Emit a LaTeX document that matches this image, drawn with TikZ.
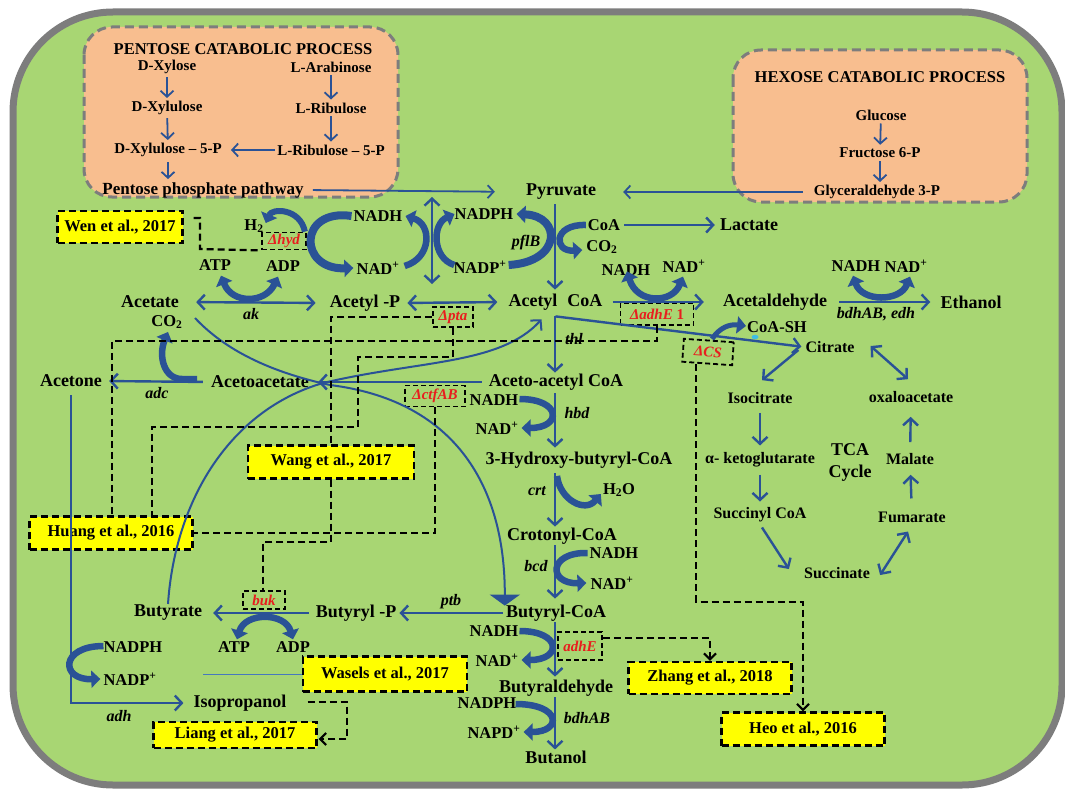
\documentclass[tikz,border=0pt]{standalone}
\usepackage{fontspec}
\setmainfont{Liberation Serif}
\usetikzlibrary{arrows.meta,calc}
\definecolor{bg}{RGB}{168,214,115}
\definecolor{framegray}{RGB}{125,125,125}
\definecolor{orng}{RGB}{248,190,143}
\definecolor{pblue}{RGB}{42,82,150}
\definecolor{kred}{RGB}{232,30,30}
\definecolor{ylw}{RGB}{255,255,0}
\definecolor{lblue}{RGB}{70,120,190}
\definecolor{dotc}{RGB}{60,190,230}
\begin{document}
\begin{tikzpicture}[x=1pt,y=-1pt,
  big/.style={font=\fontsize{18}{20}\selectfont\bfseries, inner sep=1pt},
  med/.style={font=\fontsize{16}{18}\selectfont\bfseries, inner sep=1pt},
  sml/.style={font=\fontsize{15}{17}\selectfont\bfseries, inner sep=1pt},
  ttl/.style={font=\fontsize{16.5}{18}\selectfont\bfseries, inner sep=1pt},
  cof/.style={font=\fontsize{16.5}{18}\selectfont\bfseries, inner sep=1pt},
  enz/.style={font=\fontsize{16}{18}\selectfont\bfseries\itshape, inner sep=1pt},
  ko/.style={draw=black, line width=1.8pt, dash pattern=on 5pt off 3pt, text=kred, font=\fontsize{15}{17}\selectfont\bfseries\itshape, inner sep=0pt},
  ref/.style={draw=black, fill=ylw, line width=2.2pt, dash pattern=on 7pt off 4pt, font=\fontsize{16.5}{18}\selectfont\bfseries, inner sep=0pt, minimum height=32pt},
  arr/.style={draw=pblue, line width=2.4pt, -{Straight Barb[length=7pt,width=15pt]}},
  darr/.style={draw=pblue, line width=2.4pt, {Straight Barb[length=7pt,width=15pt]}-{Straight Barb[length=7pt,width=15pt]}},
  parr/.style={draw=pblue, line width=1.8pt, -{Straight Barb[length=6pt,width=13pt]}},
  thk/.style={draw=pblue, line width=6.5pt, -{Triangle[length=9pt,width=17pt]}},
  thkd/.style={draw=pblue, line width=6.5pt, {Triangle[length=9pt,width=17pt]}-{Triangle[length=9pt,width=17pt]}},
  dsh/.style={draw=black, line width=2.2pt, dash pattern=on 7pt off 4pt},
  dsha/.style={dsh, -{Straight Barb[length=6pt,width=12pt]}},
  crv/.style={draw=pblue, line width=2pt}
]
\useasboundingbox (0,0) rectangle (1065,789);
\fill[white] (0,0) rectangle (1065,789);
\draw[draw=framegray, line width=7pt, fill=bg, rounded corners=100pt] (13,12) rectangle (1062,785);
\draw[draw=framegray, line width=3pt, dash pattern=on 9pt off 5pt, fill=orng, rounded corners=28pt] (84,27) rectangle (398,197);
\draw[draw=framegray, line width=3pt, dash pattern=on 9pt off 5pt, fill=orng, rounded corners=28pt] (733,50) rectangle (1027,202);

% ---------- reference boxes ----------
\node[ref, minimum width=125pt] (wen) at (120,227) {Wen et al., 2017};
\node[ref, minimum width=166pt, minimum height=33pt] (wang) at (331,462) {Wang et al., 2017};
\node[ref, minimum width=163pt, minimum height=33pt] (huang) at (111,533) {Huang et al., 2016};
\node[ref, minimum width=164pt, minimum height=35pt] (wasels) at (385,674) {Wasels et al., 2017};
\node[ref, minimum width=163pt, minimum height=26pt] (liang) at (235,735) {Liang et al., 2017};
\node[ref, minimum width=163pt] (zhang) at (710,678) {Zhang et al., 2018};
\node[ref, minimum width=163pt, minimum height=33pt] (heo) at (803,729) {Heo et al., 2016};

% ---------- knockout boxes ----------
\node[ko, minimum width=44pt, minimum height=17pt] (hyd) at (284,241) {Δhyd};
\node[ko, minimum width=40pt, minimum height=20pt] (pta) at (453,317) {Δpta};
\node[ko, minimum width=73pt, minimum height=22pt] (adhe1) at (657,314) {ΔadhE \textup{1}};
\node[ko, minimum width=60pt, minimum height=21pt] (ctfab) at (435,396) {ΔctfAB};
\node[ko, minimum width=50pt, minimum height=23pt, rotate=-4] (cs) at (708,352) {ΔCS};
\node[ko, minimum width=42pt, minimum height=18pt] (buk) at (264,600) {buk};
\node[ko, minimum width=44pt, minimum height=28pt] (adhe) at (580,646) {adhE};

% ---------- pentose ----------
\node[ttl] (ptitle) at (243,49) {PENTOSE CATABOLIC PROCESS};
\node[sml] (dxyl) at (167,67) {D-Xylose};
\node[sml] (larab) at (331,67) {L-Arabinose};
\node[sml] (dxylu) at (167,108) {D-Xylulose};
\node[sml] (lribu) at (331,108) {L-Ribulose};
\node[sml] (dx5p) at (168,150) {D-Xylulose – 5-P};
\node[sml] (lr5p) at (331,150) {L-Ribulose – 5-P};
\node[font=\fontsize{17}{19}\selectfont\bfseries, inner sep=1pt] (ppp) at (203,190) {Pentose phosphate pathway};

% ---------- hexose ----------
\node[ttl] (htitle) at (880,77) {HEXOSE CATABOLIC PROCESS};
\node[sml] (gluc) at (881,115) {Glucose};
\node[sml] (fruc) at (880,153) {Fructose 6-P};
\node[sml] (gap) at (877,192) {Glyceraldehyde 3-P};

% ---------- top ----------
\node[big] (pyr) at (561,192) {Pyruvate};
\node[cof] (coa1) at (604,225) {CoA};
\node[big] (lact) at (749,225) {Lactate};
\node[cof] (co2a) at (602,247) {CO\textsubscript{2}};
\node[enz] (pflb) at (526,243) {pflB};
\node[cof] (nadph1) at (484,214) {NADPH};
\node[cof] (nadp1) at (480,267) {NADP\textsuperscript{+}};
\node[cof] (nadh1) at (378,216) {NADH};
\node[cof] (nad1) at (378,268) {NAD\textsuperscript{+}};
\node[cof] (h2) at (254,226) {H\textsubscript{2}};
\node[cof] (atp1) at (215,265) {ATP};
\node[cof] (adp1) at (283,266) {ADP};

\node[big] (acetate) at (150,302) {Acetate};
\node[cof] (co2b) at (167,322) {CO\textsubscript{2}};
\node[enz] (ak) at (251,314) {ak};
\node[big] (acp) at (365,303) {Acetyl -P};
\node[big] (acoa) at (555.5,302) {Acetyl\hspace{10pt}CoA};
\node[cof] (nadh2) at (626,270) {NADH};
\node[cof] (nad2) at (684,266) {NAD\textsuperscript{+}};
\node[big] (acald) at (775,302) {Acetaldehyde};
\node[cof] (nadh3) at (856,266) {NADH};
\node[cof] (nad3) at (906,266) {NAD\textsuperscript{+}};
\node[big] (eth) at (971,302) {Ethanol};
\node[enz] (bdh) at (876,314) {bdhAB, edh};

% ---------- TCA ----------
\node[cof] (coash) at (777,327) {CoA-SH};
\node[med] (citrate) at (830,347) {Citrate};
\node[med] (isocit) at (760,398) {Isocitrate};
\node[med] (akg) at (760,460) {α- ketoglutarate};
\node[med] (succoa) at (760,515) {Succinyl CoA};
\node[med] (succ) at (837,573) {Succinate};
\node[med] (fum) at (912,517) {Fumarate};
\node[med] (mal) at (910,459) {Malate};
\node[med] (oaa) at (911,397) {oxaloacetate};
\node[font=\fontsize{18}{22}\selectfont\bfseries, align=center, inner sep=1pt] (tca) at (850,462) {TCA\\Cycle};

% ---------- central column ----------
\node[enz] (thl) at (574,339) {thl};
\node[big] (acetone) at (71,381) {Acetone};
\node[enz] (adc) at (157,393) {adc};
\node[big] (acac) at (260,382) {Acetoacetate};
\node[big] (aacoa) at (556,382) {Aceto-acetyl CoA};
\node[cof] (nadh4) at (494,400) {NADH};
\node[cof] (nad4) at (497,428) {NAD\textsuperscript{+}};
\node[enz] (hbd) at (577,413) {hbd};
\node[big] (hbcoa) at (579,460) {3-Hydroxy-butyryl-CoA};
\node[enz] (crt) at (537,491) {crt};
\node[cof] (h2o) at (619,490) {H\textsubscript{2}O};
\node[big] (croto) at (562,536) {Crotonyl-CoA};
\node[cof] (nadh5) at (614,553) {NADH};
\node[cof] (nad5) at (612,583) {NAD\textsuperscript{+}};
\node[enz] (bcd) at (536,566) {bcd};
\node[big] (bucoa) at (556,613) {Butyryl-CoA};
\node[cof] (nadh6) at (494,631) {NADH};
\node[cof] (nad6) at (497,660) {NAD\textsuperscript{+}};
\node[big] (buald) at (556,688) {Butyraldehyde};
\node[cof] (nadph7) at (487,703) {NADPH};
\node[cof] (napd) at (494,732) {NAPD\textsuperscript{+}};
\node[enz] (bdhab) at (587,718) {bdhAB};
\node[big] (butanol) at (556,757) {Butanol};

% ---------- lower left ----------
\node[big] (butyrylp) at (356,613) {Butyryl -P};
\node[enz] (ptb) at (451,602) {ptb};
\node[big] (butyrate) at (168,613) {Butyrate};
\node[cof] (atp2) at (234,647) {ATP};
\node[cof] (adp2) at (293,647) {ADP};
\node[cof] (nadph8) at (133,647) {NADPH};
\node[cof] (nadp8) at (130,679) {NADP\textsuperscript{+}};
\node[enz] (adh) at (119,716) {adh};
\node[big] (isop) at (240,703) {Isopropanol};

\coordinate (ax) at (555,0);
\coordinate (vt) at (432,197);
\coordinate (vb) at (432,284);
\coordinate (acst) at (195,318);
\coordinate (wl) at (203,674);

% ---------- pentose / hexose arrows ----------
\draw[parr, shorten <=2pt, shorten >=2pt] (dxyl) -- (dxylu);
\draw[parr, shorten <=2pt, shorten >=2pt] (dxylu) -- (dx5p);
\draw[parr, shorten <=2pt, shorten >=2pt] (larab) -- (lribu);
\draw[parr, shorten <=2pt, shorten >=2pt] (lribu) -- (lr5p);
\draw[parr, shorten <=1pt, shorten >=8pt] (lr5p.west) -- (dx5p.east);
\draw[parr, shorten <=4pt, shorten >=2pt] (dx5p.south) -- (dx5p.south |- ppp.north);
\draw[parr, shorten <=2pt, shorten >=2pt] (gluc) -- (fruc);
\draw[parr, shorten <=2pt, shorten >=2pt] (fruc.south) -- (fruc.south |- gap.north);
\draw[parr, shorten <=8pt, shorten >=30pt] (ppp.east) -- (pyr.west);
\draw[parr, shorten <=10pt, shorten >=26pt] (gap.west) -- (pyr.east);

% ---------- main straight arrows ----------
\draw[arr, shorten <=3pt, shorten >=3pt] (ax |- pyr.south) -- (ax |- acoa.north);
\draw[arr, shorten <=3pt, shorten >=4pt] (coa1.east) -- (lact.west);
\draw[darr] (vt) -- (vb);
\draw[darr, shorten <=16pt, shorten >=13pt] (acetate.east) -- (acp.west);
\draw[darr, shorten <=6pt, shorten >=10pt] (acp.east) -- (acoa.west);
\draw[arr, shorten <=9pt, shorten >=18pt] (acoa.east) -- (acald.west);
\draw[arr, shorten <=11pt, shorten >=9pt] (acald.east) -- (eth.west);
\draw[arr, shorten >=3pt] ($(acoa.south)+(0,5)$) -- (citrate.west);
\draw[arr] ($(citrate.west)+(-6,3)$) -- ($(isocit.north)+(2,-11)$);
\draw[arr, shorten <=8pt, shorten >=6pt] (isocit) -- (akg);
\draw[arr, shorten <=6pt, shorten >=5pt] (akg) -- (succoa);
\draw[arr] ($(succoa.south)+(2,4)$) -- ($(succ.west)+(-14,-4)$);
\draw[darr] ($(succ.east)+(9,2)$) -- ($(fum.south)+(-4,8)$);
\draw[arr, shorten <=12pt, shorten >=9pt] (fum) -- (mal);
\draw[arr, shorten <=10pt, shorten >=13pt] (mal) -- (oaa);
\draw[darr] ($(oaa.north)+(-3,-11)$) -- ($(citrate.east)+(15,-1)$);

\draw[arr, shorten <=5pt] (ax |- acoa.south) -- (ax |- aacoa.north);
\draw[arr, shorten <=2pt, shorten >=3pt] (ax |- aacoa.south) -- (ax |- hbcoa.north);
\draw[arr, shorten <=4pt] (ax |- hbcoa.south) -- (ax |- croto.north);
\draw[arr, shorten >=5pt] (ax |- croto.south) -- (ax |- bucoa.north);
\draw[arr, shorten >=2pt] (ax |- bucoa.south) -- (ax |- buald.north);
\draw[arr] (ax |- buald.south) -- (ax |- butanol.north);

\draw[arr, shorten <=7pt, shorten >=6pt] (acac.west) -- (acetone.east);
\draw[arr, shorten <=6pt, shorten >=8pt] (aacoa.west) -- (acac.east);
\draw[arr, shorten <=7pt, shorten >=9pt] (acetone.south) |- (isop.west);
\draw[arr, shorten <=2pt, shorten >=2pt] (bucoa.west) -- (butyrylp.east);
\draw[arr, shorten <=6pt, shorten >=10pt] (butyrylp.west) -- (butyrate.east);
\draw[lblue, line width=1pt] (wl) -- (wasels.west);

% ---------- long curves ----------
\draw[crv, -{Triangle[length=11pt,width=30pt]}] (acst) .. controls (225,350) and (270,372) .. (330,385) .. controls (450,400) and (505,480) .. ($(bucoa.north west)+(0,2)$);
\draw[crv, -{Straight Barb[length=7pt,width=15pt]}] (butyrate.north) .. controls (175,500) and (230,410) .. (323,383) .. controls (420,360) and (500,365) .. ($(acoa.south)+(-14,8)$);

% ---------- thick cofactor arcs ----------
\draw[thk, line width=6pt] ($(hyd.north east)+(-2,0)$) .. controls (300,208) and (272,208) .. ($(h2.east)+(1,-3)$);
\draw[thk, line width=8pt] ($(nadh1.west)+(-1,0)$) .. controls (298,208) and (298,270) .. ($(nad1.west)+(-2,0)$);
\draw[thk] ($(nad1.east)+(4,-2)$) .. controls (432,258) and (432,224) .. ($(nadh1.east)+(2,0)$);
\draw[thk] ($(nadp1.west)+(2,-2)$) .. controls (432,258) and (432,224) .. ($(nadph1.west)+(1,0)$);
\draw[thk, line width=8pt] ($(nadp1.east)+(1,-2)$) .. controls (562,262) and (562,216) .. ($(nadph1.east)+(2,0)$);
\draw[thk] ($(coa1.west)+(-1,0)$) .. controls (553,224) and (553,252) .. ($(co2a.west)+(-3,3)$);
\draw[thkd] ($(atp1.south)+(6,4)$) .. controls (232,304) and (265,304) .. ($(adp1.south)+(-5,4)$);
\draw[thkd] ($(nadh2.north)+(1,8)$) .. controls (637,304) and (672,304) .. ($(nad2.south)+(-1,3)$);
\draw[thkd] ($(nadh3.south)+(-3,3)$) .. controls (862,302) and (900,302) .. ($(nad3.south)+(4,3)$);
\draw[thk, line width=5pt] (712,339) .. controls (720,327) and (730,324) .. ($(coash.west)+(0,-1)$);
\draw[thk] (197,379) -- (182,379) .. controls (164,379) and (158,356) .. ($(co2b.south)+(1,2)$);
\draw[thk] ($(nadh4.east)+(0,-1)$) .. controls (562,399) and (562,428) .. ($(nad4.east)+(2,0)$);
\draw[thk] (557,476) .. controls (560,500) and (585,513) .. ($(h2o.west)+(-1,4)$);
\draw[thk] ($(nadh5.west)+(-1,0)$) .. controls (548,552) and (548,584) .. ($(nad5.west)+(-3,0)$);
\draw[thk] ($(nadh6.east)+(0,0)$) .. controls (562,631) and (562,660) .. ($(nad6.east)+(2,0)$);
\draw[thk] ($(nadph7.east)+(-2,1)$) .. controls (562,704) and (562,732) .. ($(napd.east)+(2,0)$);
\draw[thkd] ($(atp2.north)+(3,-1)$) .. controls (245,612) and (285,612) .. ($(adp2.north)+(0,-1)$);
\draw[thk] ($(nadph8.west)+(1,-1)$) .. controls (60,646) and (60,680) .. ($(nadp8.west)+(-2,0)$);
\fill[dotc] (755,337) ellipse (3.5pt and 2.2pt);

% ---------- dashed reference links ----------
\draw[dsh] ($(wen.east)+(10,-9)$) -- (200,218) -- (200,249) -- (hyd.south west);
\draw[dsh] (pta.west) -| (wang.north);
\draw[dsh] (pta.south) |- (358,357) |- (152,427) -- (152,0 |- huang.north);
\draw[dsh] (adhe1.south) |- (112,341) -- (112,0 |- huang.north);
\draw[dsh] (ctfab.south) |- (huang.east);
\draw[dsh] (wang.south) |- (263,542) -- (263,0 |- buk.north);
\draw[dsha] ($(adhe.east)+(0,-8)$) -| (zhang.north);
\draw[dsha] ($(cs.south)+(-11,0)$) |- (803,602) -- (heo.north);
\draw[dsha] ($(isop.east)+(20,-1)$) -- (347,702) |- ($(liang.east)+(1,4)$);
\end{tikzpicture}
\end{document}
